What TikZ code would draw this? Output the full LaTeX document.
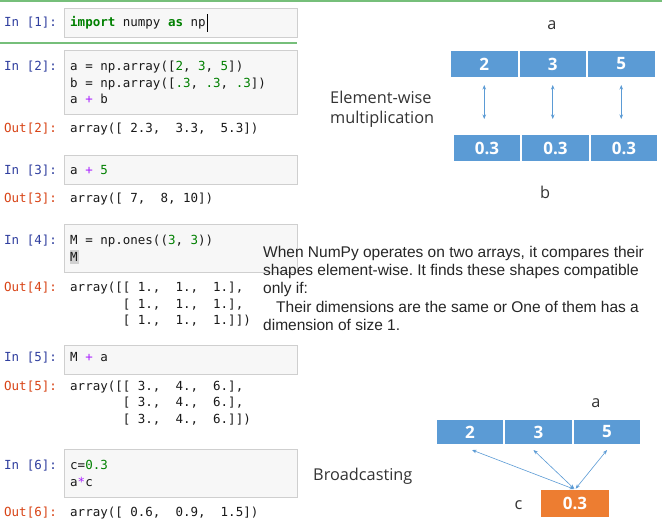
\documentclass[tikz,border=0pt]{standalone}
\usepackage{fontspec}
\setmainfont{Liberation Sans}
\setmonofont{DejaVu Sans Mono}
\newfontfamily\uifont{Open Sans}
\usetikzlibrary{positioning,arrows.meta}

\definecolor{inblue}{HTML}{303F9F}
\definecolor{outred}{HTML}{D84315}
\definecolor{kwgreen}{HTML}{008000}
\definecolor{opviolet}{HTML}{AA22FF}
\definecolor{cellgrey}{HTML}{F7F7F7}
\definecolor{cellline}{HTML}{CFCFCF}
\definecolor{selgreen}{HTML}{76BF7A}
\definecolor{arrblue}{HTML}{5B9BD5}
\definecolor{scalorange}{HTML}{ED7D31}

\newcommand{\kw}[1]{\textcolor{kwgreen}{\bfseries #1}}
\newcommand{\nm}[1]{\textcolor{kwgreen}{#1}}
\newcommand{\op}[1]{\textcolor{opviolet}{#1}}

\tikzset{
  codeline/.style={anchor=base west, inner sep=0pt, text=black!90,
    font=\ttfamily\fontsize{12.5}{14}\selectfont},
  inprompt/.style={codeline, text=inblue},
  outprompt/.style={codeline, text=outred},
  inbox/.style={fill=cellgrey, draw=cellline, line width=0.8pt},
  arrcell/.style={fill=arrblue, draw=white, line width=1pt, inner sep=0pt,
    minimum width=67.5pt, minimum height=27pt, text=white,
    font=\uifont\bfseries\fontsize{17}{17}\selectfont},
  uitext/.style={text=black!80, font=\uifont\fontsize{16.3}{19.5}\selectfont},
  pairarrow/.style={{Stealth[length=4.5pt,width=3.5pt]}-{Stealth[length=4.5pt,width=3.5pt]},
    draw=arrblue, line width=0.6pt}
}

\begin{document}
\begin{tikzpicture}[x=1pt, y=-1pt]
  \fill[white] (0,0) rectangle (662,523);
  \useasboundingbox (0,0) rectangle (662,523);

  % notebook cells
  \draw[selgreen, line width=1.2pt] (0,1) -- (662,1);
  \draw[selgreen, line width=1.2pt] (0,43) -- (297,43);
  \draw[inbox] (64,8) rectangle (297,37);
  \draw[inbox] (64,50) rectangle (297,114);
  \draw[inbox] (64,155) rectangle (297,184);
  \draw[inbox] (64,224) rectangle (297,272);
  \draw[inbox] (64,345) rectangle (297,374);
  \draw[inbox] (64,449) rectangle (297,497);
  \fill[black!18] (69.5,250) rectangle (78.5,264);

  \node[inprompt] (in1) at (4,26.5) {In [1]:};
  \node[codeline] (c1) at (70,26.5) {\kw{import} numpy \kw{as} np};
  \path (c1.east) ++(2,0) coordinate (cur);
  \draw[line width=0.8pt] (cur |- 0,14) -- (cur |- 0,32);

  \node[inprompt] (in2) at (4,70.5) {In [2]:};
  \node[codeline] (c2a) at (70,70.5) {a = np.array([\nm{2}, \nm{3}, \nm{5}])};
  \node[codeline] (c2b) at (70,87) {b = np.array([\nm{.3}, \nm{.3}, \nm{.3}])};
  \node[codeline] (c2c) at (70,103.5) {a \op{+} b};
  \node[outprompt] (out2) at (4,132) {Out[2]:};
  \node[codeline] (o2) at (70,132) {array([ 2.3,~ 3.3,~ 5.3])};

  \node[inprompt] (in3) at (4,174) {In [3]:};
  \node[codeline] (c3) at (70,174) {a \op{+} \nm{5}};
  \node[outprompt] (out3) at (4,202.5) {Out[3]:};
  \node[codeline] (o3) at (70,202.5) {array([ 7,~ 8, 10])};

  \node[inprompt] (in4) at (4,244) {In [4]:};
  \node[codeline] (c4a) at (70,244) {M = np.ones((\nm{3}, \nm{3}))};
  \node[codeline] (c4b) at (70,261) {M};
  \node[outprompt] (out4) at (4,291.5) {Out[4]:};
  \node[codeline] (o4a) at (70,291.5) {array([[ 1.,~ 1.,~ 1.],};
  \node[codeline] (o4b) at (70,308) {~~~~~~~[ 1.,~ 1.,~ 1.],};
  \node[codeline] (o4c) at (70,324.5) {~~~~~~~[ 1.,~ 1.,~ 1.]])};

  \node[inprompt] (in5) at (4,361.5) {In [5]:};
  \node[codeline] (c5) at (70,361.5) {M \op{+} a};
  \node[outprompt] (out5) at (4,390) {Out[5]:};
  \node[codeline] (o5a) at (70,390) {array([[ 3.,~ 4.,~ 6.],};
  \node[codeline] (o5b) at (70,406.5) {~~~~~~~[ 3.,~ 4.,~ 6.],};
  \node[codeline] (o5c) at (70,423) {~~~~~~~[ 3.,~ 4.,~ 6.]])};

  \node[inprompt] (in6) at (4,469.5) {In [6]:};
  \node[codeline] (c6a) at (70,469.5) {c=\nm{0.3}};
  \node[codeline] (c6b) at (70,486) {a\op{*}c};
  \node[outprompt] (out6) at (4,516.5) {Out[6]:};
  \node[codeline] (o6) at (70,516.5) {array([ 0.6,~ 0.9,~ 1.5])};

  % element-wise
  \node[uitext] (lbla) at (552,25) {a};
  \node[arrcell] (a1) at (484.25,64) {2};
  \node[arrcell, right=0pt of a1] (a2) {3};
  \node[arrcell, right=0pt of a2] (a3) {5};
  \node[arrcell] (b1) at (487,148) {0.3};
  \node[arrcell, right=0pt of b1] (b2) {0.3};
  \node[arrcell, right=0pt of b2] (b3) {0.3};
  \node[uitext] (lblb) at (545,192) {b};
  \node[uitext, anchor=north west, align=left, inner sep=0pt] (ew) at (330,91)
    {Element-wise\\multiplication};
  \foreach \i in {1,2,3}
    \draw[pairarrow, shorten <=7pt, shorten >=15pt] (a\i.south) -- (a\i.south |- b\i.north);

  % rule text
  \node[anchor=north west, align=left, inner sep=0pt, text=black!85,
    font=\fontsize{15.5}{18.2}\selectfont\frenchspacing] (rule) at (263,246)
    {When NumPy operates on two arrays, it compares their\\
     shapes element-wise. It finds these shapes compatible\\
     only if:\\
     \hspace*{13pt}Their dimensions are the same or One of them has a\\
     dimension of size 1.};

  % broadcasting
  \node[uitext] (lblba) at (596,403) {a};
  \node[arrcell, minimum height=25pt] (ba1) at (470,432) {2};
  \node[arrcell, minimum height=25pt, right=0pt of ba1] (ba2) {3};
  \node[arrcell, minimum height=25pt, right=0pt of ba2] (ba3) {5};
  \node[arrcell, fill=scalorange, draw=none, minimum width=68pt] (sc) at (575,503.5) {0.3};
  \node[uitext] (lblc) at (518.5,505) {c};
  \node[uitext, anchor=base west, inner sep=0pt] (bc) at (313,480) {Broadcasting};
  \draw[pairarrow, shorten <=1pt] (sc.north) -- ([shift={(2pt,-5pt)}]ba1.south);
  \draw[pairarrow, shorten <=1pt] (sc.north) -- ([shift={(-5pt,-5pt)}]ba2.south);
  \draw[pairarrow, shorten <=1pt] (sc.north) -- ([yshift=-5pt]ba3.south);
\end{tikzpicture}
\end{document}
